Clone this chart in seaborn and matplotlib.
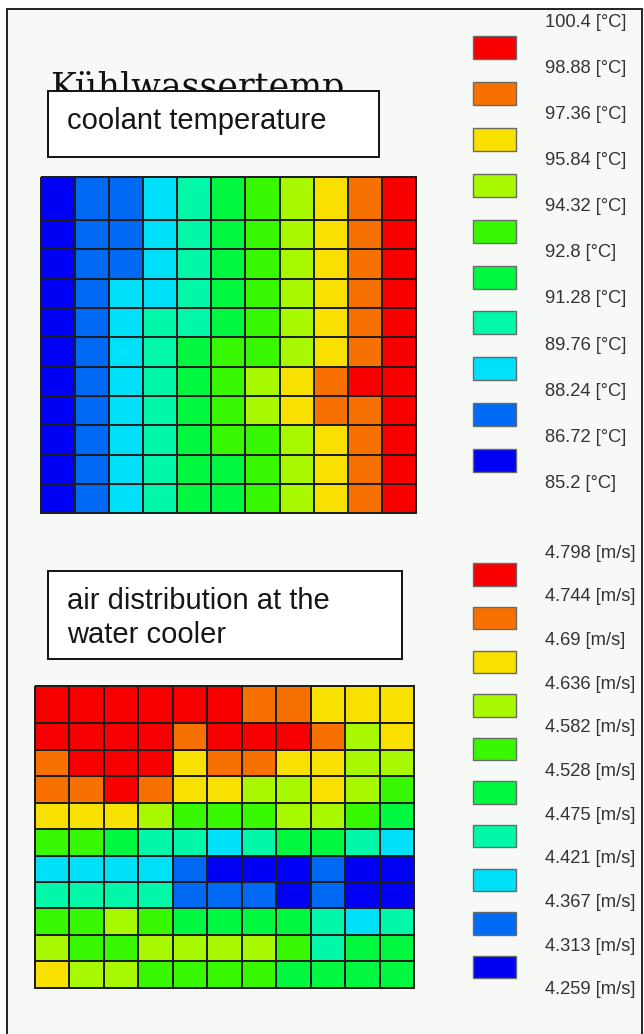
import numpy as np
import matplotlib
matplotlib.use("Agg")
import matplotlib.pyplot as plt
from matplotlib.colors import ListedColormap, BoundaryNorm
from matplotlib.patches import Rectangle
import seaborn as sns

# ---------------- data ----------------
temp_bounds = [85.2, 86.72, 88.24, 89.76, 91.28, 92.8, 94.32, 95.84, 97.36, 98.88, 100.4]
air_bounds = [4.259, 4.313, 4.367, 4.421, 4.475, 4.528, 4.582, 4.636, 4.69, 4.744, 4.798]
temp_unit = "[°C]"
air_unit = "[m/s]"

level_colors = ["#0000f5", "#006af5", "#00e0f8", "#00f8a8", "#00f840",
                "#38f800", "#a8f800", "#f8e000", "#f87000", "#f80000"]

# class index (0 = lowest band) of each cell
coolant_class = [
    [0, 1, 1, 2, 3, 4, 5, 6, 7, 8, 9],
    [0, 1, 1, 2, 3, 4, 5, 6, 7, 8, 9],
    [0, 1, 1, 2, 3, 4, 5, 6, 7, 8, 9],
    [0, 1, 2, 2, 3, 4, 5, 6, 7, 8, 9],
    [0, 1, 2, 3, 3, 4, 5, 6, 7, 8, 9],
    [0, 1, 2, 3, 4, 5, 5, 6, 7, 8, 9],
    [0, 1, 2, 3, 4, 5, 6, 7, 8, 9, 9],
    [0, 1, 2, 3, 4, 5, 6, 7, 8, 8, 9],
    [0, 1, 2, 3, 4, 5, 5, 6, 7, 8, 9],
    [0, 1, 2, 3, 4, 4, 5, 6, 7, 8, 9],
    [0, 1, 2, 3, 4, 4, 5, 6, 7, 8, 9],
]
air_class = [
    [9, 9, 9, 9, 9, 9, 8, 8, 7, 7, 7],
    [9, 9, 9, 9, 8, 9, 9, 9, 8, 6, 7],
    [8, 9, 9, 9, 7, 8, 8, 7, 7, 6, 6],
    [8, 8, 9, 8, 7, 7, 6, 6, 7, 6, 5],
    [7, 7, 7, 6, 5, 5, 5, 6, 6, 5, 4],
    [5, 5, 4, 3, 3, 2, 3, 4, 4, 3, 2],
    [2, 2, 2, 2, 1, 0, 0, 0, 1, 0, 0],
    [3, 3, 3, 3, 1, 1, 1, 0, 1, 0, 0],
    [5, 5, 6, 5, 4, 4, 4, 4, 3, 2, 3],
    [6, 5, 5, 6, 6, 6, 6, 5, 3, 4, 4],
    [7, 6, 6, 5, 5, 5, 5, 4, 4, 4, 4],
]

title_de = "Kühlwassertemp"
title_top = "coolant temperature"
title_bottom = "air distribution at the\nwater cooler"

# ---------------- figure ----------------
W, H = 644, 1034
fig = plt.figure(figsize=(W / 100, H / 100), dpi=100, facecolor="white")


def px_rect(x, y, w, h):
    return [x / W, 1 - (y + h) / H, w / W, h / H]


# overlay axes in pixel coordinates
bg = fig.add_axes([0, 0, 1, 1])
bg.set_xlim(0, W)
bg.set_ylim(H, 0)
bg.axis("off")
bg.add_patch(Rectangle((7, 9), 635, 1040, facecolor="#f7f9f7",
                       edgecolor="#222222", lw=1.4, zorder=0))

sans = ["Liberation Sans", "DejaVu Sans"]


def class_to_values(cls, bounds):
    b = np.asarray(bounds)
    idx = np.asarray(cls)
    return (b[idx] + b[idx + 1]) / 2.0


def draw_grid(cls, bounds, x0, x1, y0, ysplit, y1):
    vals = class_to_values(cls, bounds)
    cmap = ListedColormap(level_colors)
    norm = BoundaryNorm(bounds, cmap.N)
    for part, (ya, yb) in ((vals[:1], (y0, ysplit)), (vals[1:], (ysplit, y1))):
        ax = fig.add_axes(px_rect(x0, ya, x1 - x0, yb - ya))
        sns.heatmap(part, ax=ax, cmap=cmap, norm=norm, cbar=False,
                    linewidths=1.3, linecolor="#1e1e1e",
                    xticklabels=False, yticklabels=False)
        ax.collections[0].set_clip_on(False)
        ax.set_xlabel("")
        ax.set_ylabel("")


draw_grid(coolant_class, temp_bounds, 40.7, 416.0, 177.3, 220.0, 513.3)
draw_grid(air_class, air_bounds, 34.7, 414.0, 686.0, 723.3, 987.7)

# German title partly hidden behind the caption box
bg.text(50, 98, title_de, family="DejaVu Serif", fontsize=25,
        color="#111111", va="baseline", ha="left", zorder=1)

# caption boxes
bg.add_patch(Rectangle((48, 91), 331, 66, facecolor="white",
                       edgecolor="#111111", lw=1.4, zorder=2))
bg.text(67, 121, title_top, family=sans, fontsize=21, color="#161616",
        va="center", ha="left", zorder=3)
bg.add_patch(Rectangle((48, 571), 354, 88, facecolor="white",
                       edgecolor="#111111", lw=1.4, zorder=2))
bg.text(67, 618, title_bottom, family=sans, fontsize=21, color="#161616",
        va="center", ha="left", linespacing=1.3, zorder=3)


def draw_legend(bounds, unit, sw_top, sw_step, sw_h, lab_top, lab_step):
    n = len(level_colors)
    for k in range(n):
        lvl = n - 1 - k
        bg.add_patch(Rectangle((473, sw_top + k * sw_step), 43, sw_h,
                               facecolor=level_colors[lvl], edgecolor="#6a6a6a",
                               lw=1.0, zorder=2))
    for k, b in enumerate(bounds[::-1]):
        bg.text(545, lab_top + k * lab_step, f"{b:g} {unit}", family=sans,
                fontsize=13.2, color="#333333", va="center", ha="left", zorder=3)


draw_legend(temp_bounds, temp_unit, 36.0, 45.9, 23.0, 22.3, 46.1)
draw_legend(air_bounds, air_unit, 563.3, 43.6, 22.5, 553.0, 43.7)

fig.savefig("out.png", dpi=100, facecolor="white")
